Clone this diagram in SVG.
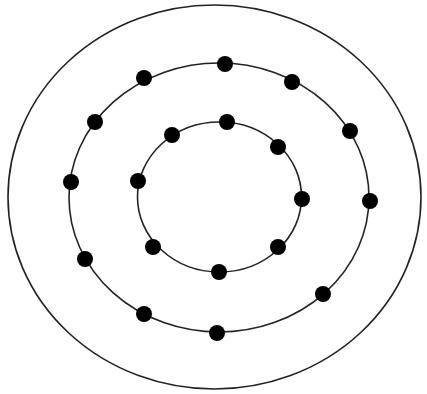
<svg xmlns="http://www.w3.org/2000/svg" width="427" height="394" viewBox="0 0 427 394">
<style>
.ring{fill:none;stroke:#222;stroke-width:1.6}
.dot{fill:#000}
</style>
<rect width="427" height="394" fill="#fff"/>
<g id="rings">
<ellipse id="outer" class="ring" cx="214.5" cy="197" rx="206.5" ry="192"/>
<ellipse id="middle" class="ring" cx="219" cy="197.5" rx="150" ry="134.5"/>
<ellipse id="inner" class="ring" cx="219.5" cy="197" rx="82" ry="75"/>
</g>
<g id="middle-dots">
<circle class="dot" cx="225" cy="64" r="8"/>
<circle class="dot" cx="144" cy="78" r="8"/>
<circle class="dot" cx="292" cy="82" r="8"/>
<circle class="dot" cx="95" cy="122" r="8"/>
<circle class="dot" cx="350" cy="131" r="8"/>
<circle class="dot" cx="71" cy="182" r="8"/>
<circle class="dot" cx="370" cy="201" r="8"/>
<circle class="dot" cx="85" cy="259" r="8"/>
<circle class="dot" cx="323" cy="294" r="8"/>
<circle class="dot" cx="144" cy="314" r="8"/>
<circle class="dot" cx="217" cy="333" r="8"/>
</g>
<g id="inner-dots">
<circle class="dot" cx="227" cy="122" r="8"/>
<circle class="dot" cx="172" cy="135" r="8"/>
<circle class="dot" cx="278" cy="147" r="8"/>
<circle class="dot" cx="138" cy="181" r="8"/>
<circle class="dot" cx="302" cy="199" r="8"/>
<circle class="dot" cx="153" cy="247" r="8"/>
<circle class="dot" cx="278" cy="247" r="8"/>
<circle class="dot" cx="219" cy="272" r="8"/>
</g>
</svg>
